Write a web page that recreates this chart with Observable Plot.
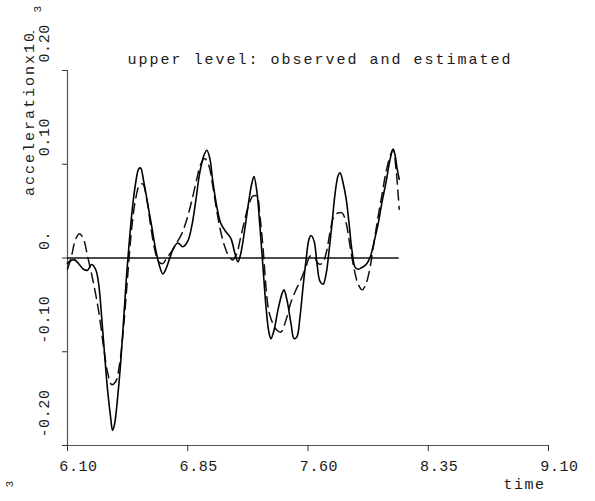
<!DOCTYPE html>
<html><head><meta charset="utf-8">
<script src="https://cdn.jsdelivr.net/npm/d3@7"></script>
<script src="https://cdn.jsdelivr.net/npm/@observablehq/plot@0.6"></script>
<style>body{margin:0;background:#fff} #chart svg{display:block}</style>
</head><body><div id="chart"></div>
<script>
const titleText = "upper level: observed and estimated";
const yLabelText = "accelerationx10";
const yExponent = ["-", "3"];
const xLabelText = "time";
const cornerMark = "3";

const xTicks = [6.10, 6.85, 7.60, 8.35, 9.10];
const xTickLabels = ["6.10", "6.85", "7.60", "8.35", "9.10"];
const yTicks = [-0.20, -0.10, 0, 0.10, 0.20];
const yTickLabels = ["-0.20", "-0.10", "0.", "0.10", "0.20"];

// observed (solid)
const obsTime = [6.100,6.119,6.144,6.169,6.200,6.225,6.250,6.275,6.294,6.313,6.331,6.350,6.369,6.381,6.394,6.413,6.431,6.450,6.469,6.488,6.506,6.525,6.544,6.556,6.575,6.600,6.625,6.650,6.675,6.694,6.713,6.738,6.763,6.788,6.819,6.850,6.875,6.900,6.925,6.950,6.969,6.988,7.006,7.031,7.056,7.088,7.119,7.144,7.163,7.181,7.206,7.231,7.250,7.263,7.281,7.300,7.319,7.338,7.356,7.369,7.388,7.413,7.438,7.450,7.469,7.494,7.513,7.531,7.550,7.569,7.588,7.606,7.619,7.638,7.656,7.675,7.694,7.713,7.731,7.750,7.769,7.788,7.800,7.819,7.838,7.856,7.875,7.894,7.913,7.938,7.963,7.988,8.013,8.038,8.063,8.088,8.113,8.131,8.144,8.156,8.169];
const observed = [-0.006,-0.003,-0.002,-0.006,-0.012,-0.013,-0.007,-0.012,-0.027,-0.063,-0.102,-0.141,-0.170,-0.184,-0.177,-0.148,-0.113,-0.066,-0.017,0.023,0.055,0.080,0.095,0.096,0.082,0.058,0.034,0.009,-0.009,-0.017,-0.012,0.000,0.011,0.016,0.012,0.018,0.034,0.061,0.091,0.109,0.115,0.106,0.082,0.055,0.037,0.028,0.021,0.005,-0.004,0.005,0.031,0.061,0.080,0.087,0.071,0.034,-0.009,-0.052,-0.079,-0.086,-0.077,-0.055,-0.038,-0.034,-0.045,-0.070,-0.086,-0.084,-0.063,-0.031,-0.002,0.020,0.024,0.018,-0.006,-0.025,-0.028,-0.017,0.007,0.037,0.069,0.088,0.091,0.080,0.063,0.037,0.007,-0.010,-0.012,-0.010,-0.007,0.001,0.018,0.037,0.061,0.082,0.106,0.116,0.109,0.095,0.084];

// estimated (dashed)
const estTime = [6.100,6.125,6.150,6.175,6.200,6.225,6.250,6.275,6.300,6.325,6.350,6.375,6.400,6.425,6.450,6.475,6.500,6.525,6.550,6.569,6.594,6.619,6.644,6.669,6.694,6.719,6.750,6.781,6.813,6.844,6.875,6.906,6.931,6.956,6.981,7.006,7.031,7.056,7.081,7.106,7.131,7.156,7.181,7.206,7.231,7.256,7.281,7.300,7.319,7.338,7.356,7.381,7.406,7.431,7.463,7.494,7.525,7.556,7.588,7.613,7.638,7.663,7.688,7.713,7.738,7.763,7.788,7.813,7.838,7.863,7.888,7.913,7.938,7.963,7.988,8.013,8.038,8.063,8.088,8.113,8.131,8.150,8.163,8.169];
const estimated = [-0.012,0.002,0.020,0.026,0.020,0.002,-0.017,-0.038,-0.063,-0.095,-0.122,-0.135,-0.132,-0.113,-0.073,-0.020,0.031,0.063,0.078,0.079,0.063,0.034,0.009,-0.004,-0.006,0.000,0.007,0.016,0.026,0.041,0.061,0.084,0.100,0.106,0.099,0.077,0.050,0.028,0.012,0.002,-0.002,0.005,0.023,0.041,0.057,0.066,0.066,0.045,0.012,-0.031,-0.057,-0.070,-0.077,-0.079,-0.066,-0.047,-0.034,-0.023,-0.009,0.002,0.002,-0.006,-0.006,0.005,0.028,0.045,0.048,0.048,0.037,0.012,-0.012,-0.028,-0.034,-0.027,-0.009,0.018,0.045,0.069,0.093,0.109,0.116,0.093,0.066,0.052];

const obsData = obsTime.map((t, i) => ({t, v: observed[i]}));
const estData = estTime.map((t, i) => ({t, v: estimated[i]}));
const zeroSpan = [{t0: obsTime[0], t1: obsTime[obsTime.length - 1]}];

const font = "Liberation Mono, Courier New, monospace";
const ink = "#1a1a1a";

const chart = Plot.plot({
  width: 595,
  height: 501,
  marginLeft: 67,
  marginRight: 47,
  marginTop: 70,
  marginBottom: 56,
  style: {fontFamily: font, fontSize: "15px", color: ink, background: "#fff"},
  x: {domain: [6.10, 9.10], label: null},
  y: {domain: [-0.20, 0.20], label: null},
  marks: [
    // axis lines
    Plot.ruleX([xTicks[0]], {stroke: "#555", strokeWidth: 1.2}),
    Plot.ruleY([yTicks[0]], {stroke: "#555", strokeWidth: 1.2}),
    Plot.axisX({ticks: xTicks, tickFormat: () => "", tickSize: 6, stroke: "#333", label: null}),
    Plot.axisY({ticks: yTicks, tickFormat: () => "", tickSize: 5, stroke: "#333", label: null}),
    // zero line
    Plot.ruleY(zeroSpan, {y: () => 0, x1: "t0", x2: "t1", stroke: "#111", strokeWidth: 1.3}),
    // series
    Plot.line(estData, {x: "t", y: "v", stroke: "#111", strokeWidth: 1.5, strokeDasharray: "10,6", curve: "catmull-rom"}),
    Plot.line(obsData, {x: "t", y: "v", stroke: "#000", strokeWidth: 1.6, curve: "catmull-rom"}),
    // tick labels
    Plot.text(xTicks, {x: d => d, text: (d, i) => xTickLabels[i], frameAnchor: "bottom", dx: 11, dy: 25, lineAnchor: "bottom", fontSize: 15, fill: ink}),
    Plot.text(yTicks, {y: d => d, text: (d, i) => yTickLabels[i], frameAnchor: "left", dx: -23, dy: -8, rotate: -90, fontSize: 15, fill: ink}),
    // title and labels
    Plot.text([titleText], {text: d => d, frameAnchor: "top", dx: 12, dy: -7, lineAnchor: "bottom", fontSize: 15, fill: ink}),
    Plot.text([yLabelText], {text: d => d, frameAnchor: "top-left", dx: -44, dy: 43, rotate: -90, textAnchor: "middle", fontSize: 15, fill: ink}),
    Plot.text([yExponent[0]], {text: d => d, frameAnchor: "top-left", dx: -39, dy: -35, rotate: -90, fontSize: 11, fill: ink}),
    Plot.text([yExponent[1]], {text: d => d, frameAnchor: "top-left", dx: -34, dy: -58, rotate: -90, fontSize: 11, fill: ink}),
    Plot.text([xLabelText], {text: d => d, frameAnchor: "bottom-right", dx: -3, dy: 43, lineAnchor: "bottom", fontSize: 15, fill: ink}),
    Plot.text([cornerMark], {text: d => d, frameAnchor: "bottom-left", dx: -55, dy: 42, rotate: -90, fontSize: 11, fill: ink})
  ]
});
// letter spacing to mimic the wide typewriter face of the original
const spacing = new Map([[titleText, "2px"], [yLabelText, "2px"], [xLabelText, "1.5px"]]);
d3.select(chart).selectAll("text").each(function() {
  const s = this.textContent;
  if (spacing.has(s)) this.setAttribute("letter-spacing", spacing.get(s));
  else if (xTickLabels.includes(s) || yTickLabels.includes(s)) this.setAttribute("letter-spacing", "0.6px");
});
document.getElementById("chart").appendChild(chart);
</script>
</body></html>
